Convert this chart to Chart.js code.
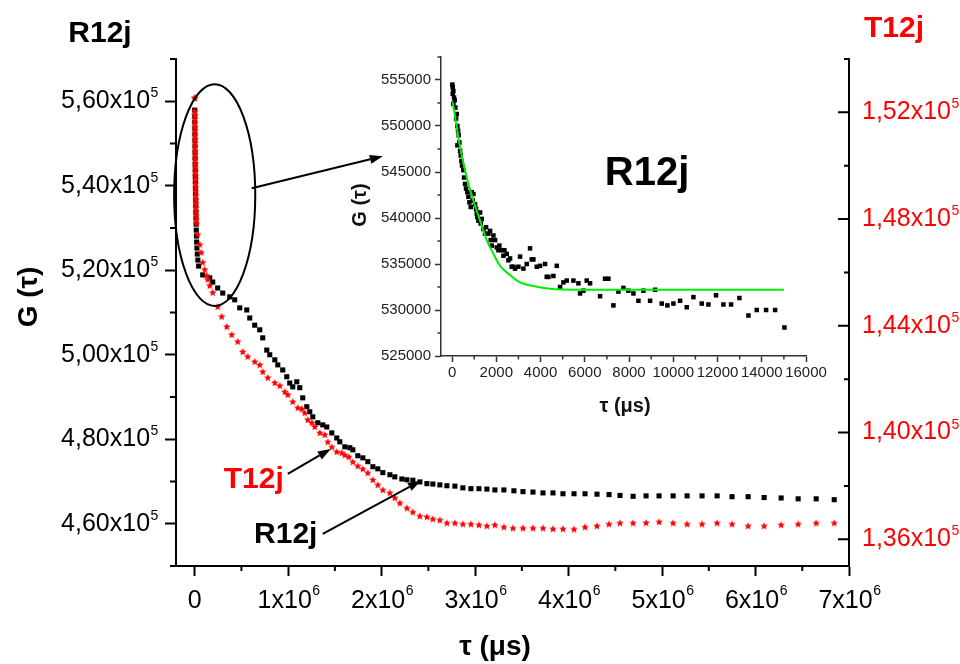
<!DOCTYPE html>
<html lang="en">
<head>
    <meta charset="UTF-8">
    <title>G(tau) R12j / T12j</title>
    <script src="https://cdn.jsdelivr.net/npm/chart.js"></script>
    <style>
        body { margin: 0; background: #fff; }
        #wrap { position: relative; width: 960px; height: 664px; }
        #main { position: absolute; left: 0; top: 0; }
        #inset { position: absolute; left: 340px; top: 40px; }
    </style>
</head>
<body>
<div id="wrap">
    <canvas id="main" width="960" height="664"></canvas>
    <canvas id="inset" width="500" height="390"></canvas>
</div>
<script>
    // R12j, main plot (tau in us, G on left axis)
    const rTau = [0, 500, 1000, 1500, 2000, 2600, 3200, 3800, 4500, 5200, 6000, 6800, 7700, 8600, 9600,
        10600, 11700, 12800, 14000, 15500, 17000, 19000, 21000, 24000, 28000, 34000, 42000,
        86000, 161000, 193000, 246000, 300000, 375000, 428000, 482000, 557000, 589000, 642000, 696000,
        728000, 771000, 803000, 857000, 889000, 942000, 985000, 1017000, 1049000, 1092000, 1124000,
        1156000, 1199000, 1231000, 1263000, 1317000, 1370000, 1413000, 1467000, 1520000, 1552000,
        1606000, 1660000, 1692000, 1745000, 1799000, 1852000, 1906000, 1959000, 2013000, 2088000,
        2141000, 2216000, 2270000, 2334000, 2409000, 2484000, 2548000, 2623000, 2698000, 2784000,
        2869000, 2955000, 3041000, 3126000, 3212000, 3308000, 3415000, 3512000, 3619000, 3726000,
        3833000, 3940000, 4058000, 4176000, 4304000, 4433000, 4550000, 4690000, 4829000, 4968000,
        5118000, 5268000, 5428000, 5589000, 5749000, 5921000, 6092000, 6274000, 6456000, 6649000, 6842000];
    const rG = [557900, 556450, 555040, 553620, 552200, 550780, 549360, 547940, 546530, 545110, 543690,
        542270, 540850, 539430, 538010, 536600, 535180, 533760, 532340, 530920, 529500, 528090, 526670,
        525250, 523830, 522410, 520990,
        518900, 518200, 517200, 515800, 514600, 513700, 513000, 511100, 510600, 508700, 507000, 505900,
        504000, 501100, 500000, 498800, 497600, 496400, 494800, 493300, 492400, 493600, 492200,
        489800, 487700, 486500, 485300, 483900, 483400, 482900, 481500, 480300, 479400,
        478200, 478000, 477500, 476100, 475600, 474700, 473500, 473000, 472100, 471600,
        471100, 470600, 470400, 470300, 469900, 469500, 469400, 469200, 469000, 468900,
        468500, 468300, 468300, 468200, 468000, 468000, 467800, 467600, 467500, 467300,
        467300, 467100, 467100, 467100, 467000, 466900, 466700, 466500, 466600, 466600,
        466600, 466600, 466600, 466600, 466400, 466400, 466200, 466100, 465900, 465900, 465700];

    // T12j, main plot (tau in us, G on right axis)
    const tTau = [0, 300, 600, 900, 1200, 1500, 1800, 2100, 2500, 2900, 3300, 3700, 4200, 4700, 5200,
        5800, 6400, 7000, 7700, 8400, 9100, 9900, 10700, 11500, 12400, 13300, 14200, 15200, 16300, 17500, 18800,
        32000, 54000, 70000, 86000, 107000, 128000, 139000, 161000, 193000, 246000, 289000, 343000,
        396000, 460000, 514000, 567000, 642000, 696000, 728000, 782000, 857000, 910000, 964000, 996000,
        1049000, 1103000, 1146000, 1178000, 1210000, 1253000, 1285000, 1338000, 1392000, 1424000,
        1467000, 1520000, 1574000, 1606000, 1649000, 1692000, 1745000, 1799000, 1852000, 1906000,
        1959000, 2013000, 2088000, 2141000, 2195000, 2270000, 2334000, 2409000, 2484000, 2548000,
        2623000, 2698000, 2784000, 2869000, 2955000, 3041000, 3126000, 3212000, 3308000, 3405000,
        3512000, 3619000, 3726000, 3833000, 3940000, 4058000, 4176000, 4304000, 4433000, 4550000,
        4690000, 4829000, 4968000, 5118000, 5268000, 5428000, 5589000, 5749000, 5921000, 6092000,
        6274000, 6456000, 6649000, 6842000];
    const tG = [152540, 152520, 152040, 151890, 151740, 151590, 151440, 151290, 151140, 150990, 150840,
        150690, 150540, 150390, 150240, 150080, 149930, 149780, 149630, 149480, 149330, 149180, 149030,
        148880, 148730, 148580, 148430, 148280, 148130, 147980, 147830,
        147420, 147040, 146740, 146370, 146100, 145880, 145730, 145500, 145240, 144710, 144340, 143960,
        143660, 143400, 143020, 142840, 142650, 142530, 142270, 142050, 141860, 141750, 141520, 141410,
        141150, 140920, 140880, 140730, 140470, 140360, 140210, 139980, 139910, 139640,
        139450, 139270, 139230, 139150, 139080, 138890, 138740, 138630, 138480, 138220,
        138030, 137840, 137730, 137540, 137350, 137160, 137010, 136860, 136830, 136750,
        136710, 136600, 136600, 136560, 136560, 136530, 136490, 136530, 136450, 136410,
        136410, 136410, 136410, 136380, 136380, 136370, 136450, 136490, 136560, 136600,
        136600, 136610, 136640, 136600, 136560, 136560, 136600, 136560, 136490, 136490,
        136530, 136560, 136600, 136600];

    // R12j, inset (first 15 ms)
    const insetTau = [15, 30, 60, 30, 90, 121, 60, 151, 211, 181, 241, 271, 301, 332, 241, 362, 392, 422,
        452, 512, 543, 588, 633, 693, 738, 784, 844, 889, 934, 964, 1040, 1085, 1115, 1145, 1191, 1266,
        1296, 1341, 1417, 1492, 1537, 1643, 1718, 1748, 1793, 1869, 1944, 2019, 2095, 2140, 2245, 2321,
        2366, 2471, 2547, 2622, 2698, 2773, 2848, 2999, 3074, 3225, 3376, 3526, 3602, 3677, 3828, 3978,
        4205, 4280, 4355, 4581, 4732, 4883, 5033, 5184, 5485, 5712, 5787, 5938, 6088, 6239, 6691, 6917,
        7068, 7294, 7520, 7746, 7972, 8198, 8424, 8650, 8952, 9178, 9479, 9735, 10006, 10308, 10609,
        10911, 11287, 11589, 11935, 12267, 12613, 12990, 13397, 13774, 14196, 14603, 15025];
    const insetG = [554500, 554200, 553800, 553500, 553100, 552800, 552400, 552000, 551300, 550800,
        550000, 549500, 549000, 548200, 547900, 547300, 546800, 546200, 545700, 545200, 544400, 543700,
        543200, 542800, 542300, 541700, 541200, 542800, 541900, 542600, 541500, 541000, 540500, 540100,
        539700, 540600, 539400, 539900, 538800, 538300, 539000, 538300, 538600, 537600, 537000, 538100,
        537600, 536800, 536500, 537000, 536500, 535900, 536500, 536100, 535400, 535600, 534700, 534700,
        534500, 534700, 535800, 534500, 535000, 536700, 535500, 535500, 534700, 534800, 535000, 533600,
        533600, 533700, 534800, 532500, 533000, 533200, 533200, 532900, 531800, 532100, 533200, 532900,
        531500, 533400, 533400, 530500, 532000, 532400, 532100, 531800, 531000, 532100, 531000, 532200,
        530700, 530500, 530700, 531000, 530300, 531400, 530700, 530600, 531600, 530600, 530600, 531300,
        529400, 530000, 530000, 530000, 528100];

    // exponential fit curve
    const fitTau = [30, 211, 362, 663, 964, 1266, 1567, 1869, 2170, 2622, 3074, 3677, 4431, 5636, 8000, 15000];
    const fitG = [552600, 549900, 547700, 544400, 541900, 539700, 537600, 536100, 534800, 533800, 533000,
        532600, 532300, 532200, 532200, 532200];

    // ticks (mantissa text; the power of ten is drawn as a superscript)
    const xTicks = [0, 1e6, 2e6, 3e6, 4e6, 5e6, 6e6, 7e6];
    const xTickLabels = ['0', '1x10', '2x10', '3x10', '4x10', '5x10', '6x10', '7x10'];
    const xExp = '6';
    const xMinor = [5e5, 1.5e6, 2.5e6, 3.5e6, 4.5e6, 5.5e6, 6.5e6];
    const leftTicks = [460000, 480000, 500000, 520000, 540000, 560000];
    const leftTickLabels = ['4,60x10', '4,80x10', '5,00x10', '5,20x10', '5,40x10', '5,60x10'];
    const leftMinor = [450000, 470000, 490000, 510000, 530000, 550000, 570000];
    const rightTicks = [136000, 140000, 144000, 148000, 152000];
    const rightTickLabels = ['1,36x10', '1,40x10', '1,44x10', '1,48x10', '1,52x10'];
    const yExp = '5';
    const rightMinor = [138000, 142000, 146000, 150000, 154000];
    const insetXTicks = [0, 2000, 4000, 6000, 8000, 10000, 12000, 14000, 16000];
    const insetXMinor = [1000, 3000, 5000, 7000, 9000, 11000, 13000, 15000];
    const insetYTicks = [525000, 530000, 535000, 540000, 545000, 550000, 555000];
    const insetYMinor = [527500, 532500, 537500, 542500, 547500, 552500, 557500];

    const FONT = "'Liberation Sans', Arial, 'DejaVu Sans', sans-serif";
    Chart.defaults.font.family = FONT;

    // filled five point star for the T12j markers
    function makeStar(color, r) {
        const c = document.createElement('canvas');
        const s = Math.ceil(r * 2) + 2;
        c.width = c.height = s;
        const g = c.getContext('2d');
        g.fillStyle = color;
        g.beginPath();
        for (let i = 0; i < 10; i++) {
            const a = -Math.PI / 2 + i * Math.PI / 5;
            const rr = i % 2 ? r * 0.45 : r;
            g.lineTo(s / 2 + rr * Math.cos(a), s / 2 + rr * Math.sin(a));
        }
        g.closePath();
        g.fill();
        return c;
    }

    const pts = (xs, ys) => xs.map((x, i) => ({ x, y: ys[i] }));
    const setTicks = list => scale => { scale.ticks = list.map(v => ({ value: v })); };

    function text(ctx, str, x, y, size, color, rotate) {
        ctx.save();
        ctx.font = 'bold ' + size + 'px ' + FONT;
        ctx.fillStyle = color;
        ctx.textAlign = 'center';
        ctx.textBaseline = 'alphabetic';
        ctx.translate(x, y);
        if (rotate) ctx.rotate(-Math.PI / 2);
        ctx.fillText(str, 0, 0);
        ctx.restore();
    }

    function arrow(ctx, x1, y1, x2, y2) {
        const a = Math.atan2(y2 - y1, x2 - x1);
        const len = 13, w = 4.5;
        const bx = x2 - len * Math.cos(a), by = y2 - len * Math.sin(a);
        ctx.beginPath();
        ctx.moveTo(x1, y1);
        ctx.lineTo(bx, by);
        ctx.stroke();
        ctx.beginPath();
        ctx.moveTo(x2, y2);
        ctx.lineTo(bx + w * Math.sin(a), by - w * Math.cos(a));
        ctx.lineTo(bx - w * Math.sin(a), by + w * Math.cos(a));
        ctx.closePath();
        ctx.fill();
    }

    // annotations, in data units of the main plot (x, left axis)
    const zoomEllipse = { x: 214000, y: 537800, rx: 434000, ry: 26240 };
    const arrows = [
        { from: [610000, 539400], to: [2013000, 547000] },
        { from: [996000, 471800], to: [1456000, 477700] },
        { from: [1370000, 457600], to: [2420000, 470200] }
    ];
    const notes = [
        { text: 'T12j', x: 632000, y: 468500, color: '#ff0000' },
        { text: 'R12j', x: 974000, y: 455500, color: '#000000' }
    ];

    const TICK_FONT = '25px ' + FONT;
    const EXP_FONT = '14px ' + FONT;

    const mainDecor = {
        id: 'mainDecor',
        afterDraw(chart) {
            const ctx = chart.ctx;
            const { left, right, bottom } = chart.chartArea;
            const sx = chart.scales.x, sy = chart.scales.y, sy2 = chart.scales.y2;
            ctx.save();
            ctx.strokeStyle = '#000';
            ctx.fillStyle = '#000';
            ctx.lineWidth = 2;
            ctx.beginPath();
            xMinor.forEach(v => { const p = sx.getPixelForValue(v); ctx.moveTo(p, bottom); ctx.lineTo(p, bottom + 5); });
            leftMinor.forEach(v => { const p = sy.getPixelForValue(v); ctx.moveTo(left - 6, p); ctx.lineTo(left, p); });
            rightTicks.forEach(v => { const p = sy2.getPixelForValue(v); ctx.moveTo(right - 11, p); ctx.lineTo(right, p); });
            rightMinor.forEach(v => { const p = sy2.getPixelForValue(v); ctx.moveTo(right - 5, p); ctx.lineTo(right, p); });
            ctx.stroke();

            // powers of ten on the tick labels
            ctx.textAlign = 'left';
            ctx.textBaseline = 'alphabetic';
            ctx.font = TICK_FONT;
            const sp = ctx.measureText(' ').width;
            const lx = left - 11 - 8 - sp + 0.5;
            ctx.font = EXP_FONT;
            leftTicks.forEach(v => ctx.fillText(yExp, lx, sy.getPixelForValue(v) - 4));
            ctx.fillStyle = '#ff0000';
            rightTickLabels.forEach((lab, i) => {
                ctx.font = TICK_FONT;
                const w = ctx.measureText(lab).width;
                ctx.font = EXP_FONT;
                ctx.fillText(yExp, right + 13 + w + 0.5, sy2.getPixelForValue(rightTicks[i]) - 4);
            });
            ctx.fillStyle = '#000';
            xTickLabels.forEach((lab, i) => {
                if (xTicks[i] === 0) return;
                ctx.font = TICK_FONT;
                const full = ctx.measureText(lab + ' ').width;
                const w = ctx.measureText(lab).width;
                ctx.font = EXP_FONT;
                ctx.fillText(xExp, sx.getPixelForValue(xTicks[i]) - full / 2 + w + 0.5, bottom + 29);
            });

            // ellipse around the early decay
            ctx.fillStyle = '#000';
            const cx = sx.getPixelForValue(zoomEllipse.x), cy = sy.getPixelForValue(zoomEllipse.y);
            const rx = sx.getPixelForValue(zoomEllipse.x + zoomEllipse.rx) - cx;
            const ry = cy - sy.getPixelForValue(zoomEllipse.y + zoomEllipse.ry);
            ctx.beginPath();
            ctx.ellipse(cx, cy, rx, ry, 0, 0, Math.PI * 2);
            ctx.stroke();

            arrows.forEach(a => arrow(ctx,
                sx.getPixelForValue(a.from[0]), sy.getPixelForValue(a.from[1]),
                sx.getPixelForValue(a.to[0]), sy.getPixelForValue(a.to[1])));
            notes.forEach(n => text(ctx, n.text, sx.getPixelForValue(n.x), sy.getPixelForValue(n.y), 30, n.color));

            // axis titles
            text(ctx, 'R12j', 100, 42, 30, '#000');
            text(ctx, 'T12j', 894, 37, 30, '#ff0000');
            text(ctx, 'G (\u03c4)', 37, 297, 28, '#000', true);
            text(ctx, '\u03c4 (\u03bcs)', 495, 655, 28, '#000');
            ctx.restore();
        }
    };

    new Chart(document.getElementById('main'), {
        type: 'scatter',
        data: {
            datasets: [
                {
                    label: 'T12j',
                    data: pts(tTau, tG),
                    yAxisID: 'y2',
                    pointStyle: makeStar('#ff0000', 4),
                    pointRadius: 4,
                    showLine: false
                },
                {
                    label: 'R12j',
                    data: pts(rTau, rG),
                    yAxisID: 'y',
                    pointStyle: 'rect',
                    pointRadius: 3.6,
                    backgroundColor: '#000',
                    borderColor: '#000',
                    borderWidth: 0,
                    showLine: false
                }
            ]
        },
        options: {
            responsive: false,
            animation: false,
            layout: { padding: { top: 59, left: 0, right: 0, bottom: 0 } },
            plugins: { legend: { display: false }, tooltip: { enabled: false } },
            scales: {
                x: {
                    type: 'linear',
                    min: -200000,
                    max: 7000000,
                    afterBuildTicks: setTicks(xTicks),
                    afterFit: s => { s.height = 98; },
                    ticks: {
                        font: { size: 25 }, color: '#000', padding: 10, maxRotation: 0, autoSkip: false,
                        callback: v => v === 0 ? '0' : xTickLabels[xTicks.indexOf(v)] + ' '
                    },
                    grid: { drawOnChartArea: false, tickLength: 10, tickWidth: 2, tickColor: '#000' },
                    border: { display: true, color: '#000', width: 2 }
                },
                y: {
                    position: 'left',
                    min: 450000,
                    max: 570000,
                    afterBuildTicks: setTicks(leftTicks),
                    afterFit: s => { s.width = 176; },
                    ticks: {
                        font: { size: 25 }, color: '#000', padding: 8, autoSkip: false,
                        callback: v => leftTickLabels[leftTicks.indexOf(v)] + ' '
                    },
                    grid: { drawOnChartArea: false, tickLength: 11, tickWidth: 2, tickColor: '#000' },
                    border: { display: true, color: '#000', width: 2 }
                },
                y2: {
                    position: 'right',
                    min: 135000,
                    max: 154000,
                    afterBuildTicks: setTicks(rightTicks),
                    afterFit: s => { s.width = 111; },
                    ticks: {
                        font: { size: 25 }, color: '#ff0000', padding: 13, autoSkip: false,
                        callback: v => rightTickLabels[rightTicks.indexOf(v)]
                    },
                    grid: { drawOnChartArea: false, drawTicks: false },
                    border: { display: true, color: '#000', width: 2 }
                }
            }
        },
        plugins: [mainDecor]
    });

    const insetDecor = {
        id: 'insetDecor',
        afterDraw(chart) {
            const ctx = chart.ctx;
            const { left, bottom } = chart.chartArea;
            const sx = chart.scales.x, sy = chart.scales.y;
            ctx.save();
            ctx.strokeStyle = '#333';
            ctx.lineWidth = 1.5;
            ctx.beginPath();
            insetXMinor.forEach(v => { const p = sx.getPixelForValue(v); ctx.moveTo(p, bottom); ctx.lineTo(p, bottom + 3.5); });
            insetYMinor.forEach(v => { const p = sy.getPixelForValue(v); ctx.moveTo(left - 3.5, p); ctx.lineTo(left, p); });
            ctx.stroke();
            text(ctx, 'R12j', 307, 145, 40, '#000');
            text(ctx, 'G (\u03c4)', 26, 165, 20, '#111', true);
            text(ctx, '\u03c4 (\u03bcs)', 285, 372, 20, '#111');
            ctx.restore();
        }
    };

    new Chart(document.getElementById('inset'), {
        type: 'scatter',
        data: {
            datasets: [
                {
                    label: 'fit',
                    data: pts(fitTau, fitG),
                    showLine: true,
                    borderColor: '#00ee00',
                    borderWidth: 2,
                    pointRadius: 0,
                    cubicInterpolationMode: 'monotone'
                },
                {
                    label: 'R12j',
                    data: pts(insetTau, insetG),
                    pointStyle: 'rect',
                    pointRadius: 3.2,
                    backgroundColor: '#000',
                    borderColor: '#000',
                    borderWidth: 0,
                    showLine: false
                }
            ]
        },
        options: {
            responsive: false,
            animation: false,
            layout: { padding: { top: 17, left: 0, right: 34, bottom: 0 } },
            plugins: { legend: { display: false }, tooltip: { enabled: false } },
            scales: {
                x: {
                    type: 'linear',
                    min: -500,
                    max: 16000,
                    afterBuildTicks: setTicks(insetXTicks),
                    afterFit: s => { s.height = 74; },
                    ticks: {
                        font: { size: 15 }, color: '#222', padding: 2, maxRotation: 0, autoSkip: false,
                        callback: v => String(v)
                    },
                    grid: { drawOnChartArea: false, tickLength: 6, tickWidth: 1.5, tickColor: '#333' },
                    border: { display: true, color: '#333', width: 1.5 }
                },
                y: {
                    min: 525000,
                    max: 557500,
                    afterBuildTicks: setTicks(insetYTicks),
                    afterFit: s => { s.width = 101; },
                    ticks: { font: { size: 15 }, color: '#222', padding: 4, autoSkip: false, callback: v => String(v) },
                    grid: { drawOnChartArea: false, tickLength: 6, tickWidth: 1.5, tickColor: '#333' },
                    border: { display: true, color: '#333', width: 1.5 }
                }
            }
        },
        plugins: [insetDecor]
    });
</script>
</body>
</html>
